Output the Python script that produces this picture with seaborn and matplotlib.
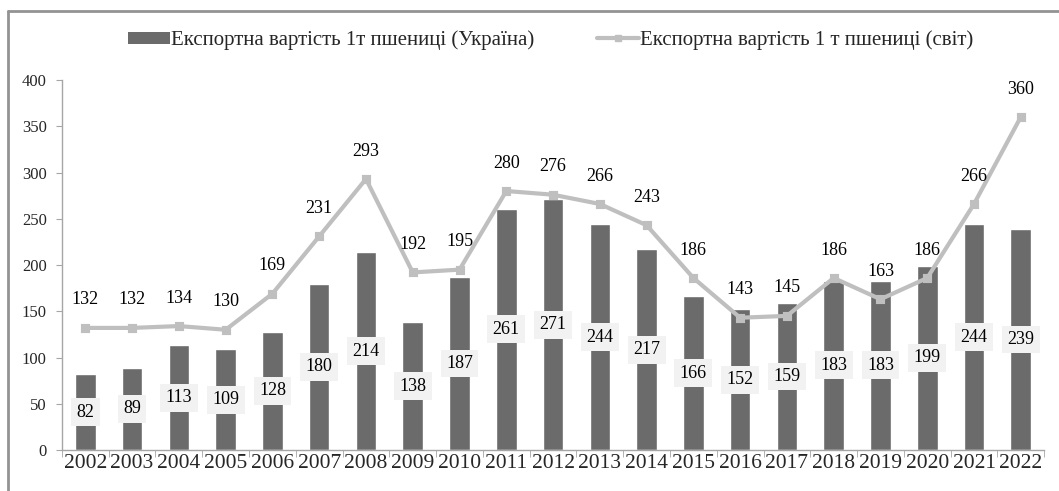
import numpy as np
import pandas as pd
import matplotlib
matplotlib.use('Agg')
import matplotlib.pyplot as plt
import seaborn as sns
from matplotlib.lines import Line2D
from matplotlib.patches import Patch

# Data
years = [str(y) for y in range(2002, 2023)]
ukraine = [82, 89, 113, 109, 128, 180, 214, 138, 187, 261, 271, 244, 217, 166, 152, 159, 183, 183, 199, 244, 239]
world = [132, 132, 134, 130, 169, 231, 293, 192, 195, 280, 276, 266, 243, 186, 143, 145, 186, 163, 186, 266, 360]

label_ua = 'Експортна вартість 1т пшениці (Україна)'
label_world = 'Експортна вартість 1 т пшениці (світ)'

df = pd.DataFrame({'year': years, 'ukraine': ukraine, 'world': world})

sns.set_style('white')
plt.rcParams['font.family'] = ['Liberation Serif', 'DejaVu Serif']

bar_color = '#6b6b6b'
line_color = '#bfbfbf'

fig = plt.figure(figsize=(10.59, 4.91), dpi=100)
ax = fig.add_axes([0.0585, 0.0835, 0.9275, 0.7535])

sns.barplot(data=df, x='year', y='ukraine', color=bar_color, width=0.44,
            saturation=1, ax=ax, zorder=2)
sns.pointplot(data=df, x='year', y='world', color=line_color, markers='s',
              markersize=5, linewidth=3, ax=ax, zorder=3)

# bar labels in the middle of each bar
ax.bar_label(ax.containers[0], labels=[str(v) for v in ukraine], label_type='center',
             fontsize=13, color='black',
             bbox=dict(boxstyle='square,pad=0.3', facecolor='#f2f2f2', edgecolor='none'))

# line labels above the points
for i, v in enumerate(world):
    ax.annotate(str(v), (i, v), xytext=(0, 14), textcoords='offset points',
                ha='center', va='bottom', fontsize=13, color='black')

ax.set_xlim(-0.5, len(years) - 0.5)
ax.set_ylim(0, 400)
ax.set_yticks(range(0, 401, 50))
ax.set_xlabel('')
ax.set_ylabel('')

for s in ['top', 'right']:
    ax.spines[s].set_visible(False)
for s in ['left', 'bottom']:
    ax.spines[s].set_color('#a6a6a6')
    ax.spines[s].set_linewidth(1)

ax.tick_params(axis='y', labelsize=12, length=4, color='#a6a6a6', left=True, pad=7)
ax.tick_params(axis='x', labelsize=15.5, length=0, pad=3)
ax.set_xticks(np.arange(-0.5, len(years), 1), minor=True)
ax.tick_params(axis='x', which='minor', length=5, color='#a6a6a6', bottom=True)

handles = [Patch(facecolor=bar_color, edgecolor='none'),
           Line2D([0], [0], color=line_color, lw=3, marker='s', markersize=5)]
fig.legend(handles, [label_ua, label_world], loc='center', bbox_to_anchor=(0.52, 0.918),
           ncol=2, frameon=False, fontsize=15, handlelength=2.0, handleheight=0.5,
           handletextpad=0.05, columnspacing=3.0)

# frame lines on the left and top of the picture
fig.add_artist(Line2D([8 / 1059, 8 / 1059], [0, 1 - 11 / 491], color='#939393', lw=2,
                      transform=fig.transFigure))
fig.add_artist(Line2D([8 / 1059, 1], [1 - 11 / 491, 1 - 11 / 491], color='#939393', lw=2,
                      transform=fig.transFigure))

fig.savefig('out.png', dpi=100)
